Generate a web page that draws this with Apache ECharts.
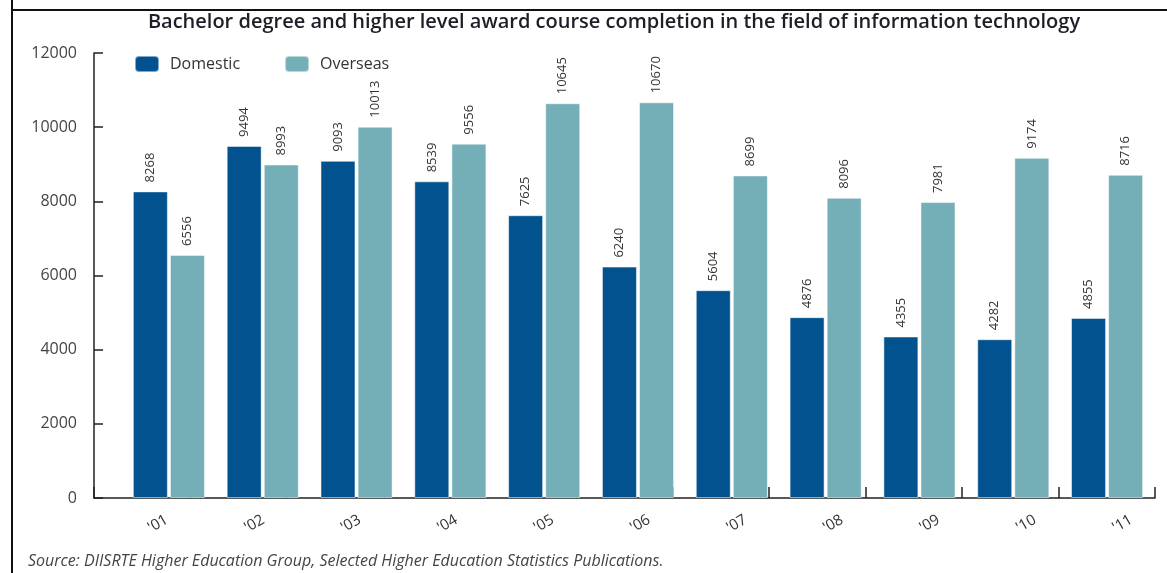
<!DOCTYPE html>
<html>
<head>
<meta charset="utf-8">
<script src="https://cdn.jsdelivr.net/npm/echarts@6/dist/echarts.min.js"></script>
<style>
  html, body { margin: 0; padding: 0; background: #fff; }
  #main { width: 1167px; height: 573px; }
</style>
</head>
<body>
<div id="main"></div>
<script>
// chart data
const years = ["'01", "'02", "'03", "'04", "'05", "'06", "'07", "'08", "'09", "'10", "'11"]
const domestic = [8268, 9494, 9093, 8539, 7625, 6240, 5604, 4876, 4355, 4282, 4855]
const overseas = [6556, 8993, 10013, 9556, 10645, 10670, 8699, 8096, 7981, 9174, 8716]
const yTicks = { min: 0, max: 12000, interval: 2000 }

const font = '"Open Sans", Lato, sans-serif'
const axisColor = '#222'

let myChart = echarts.init(document.getElementById('main'))

function barLabel() {
  return {
    show: true,
    position: 'top',
    rotate: 90,
    align: 'left',
    verticalAlign: 'middle',
    distance: 9,
    color: '#333',
    fontSize: 13,
    fontFamily: font
  }
}

myChart.setOption({
  animation: false,
  title: {
    text: 'Bachelor degree and higher level award course completion in the field of information technology',
    left: 609,
    textAlign: 'center',
    top: 7,
    textStyle: {
      fontFamily: font,
      fontSize: 20,
      fontWeight: 600,
      color: '#1e1e28'
    }
  },
  legend: {
    data: ['Domestic', 'Overseas'],
    left: 134,
    top: 55,
    itemWidth: 24,
    itemHeight: 16,
    itemGap: 44,
    padding: 0,
    textStyle: {
      fontFamily: font,
      fontSize: 16,
      color: '#333',
      padding: [0, 0, 0, 6]
    }
  },
  graphic: [
    { type: 'line', shape: { x1: 12, y1: 0, x2: 12, y2: 573 }, style: { stroke: '#111', lineWidth: 2 } },
    { type: 'line', shape: { x1: 11, y1: 10, x2: 1167, y2: 10 }, style: { stroke: '#111', lineWidth: 2 } },
    {
      type: 'text', left: 28, top: 553,
      style: {
        text: 'Source: DIISRTE Higher Education Group, Selected Higher Education Statistics Publications.',
        font: 'italic 16px ' + font,
        fill: '#444'
      }
    }
  ],
  grid: [
    // axis frame
    { left: 94, right: 12, top: 53, bottom: 75 },
    // bars
    { left: 122, right: 13, top: 53, bottom: 75 }
  ],
  xAxis: [
    {
      type: 'category',
      gridIndex: 0,
      data: years,
      boundaryGap: true,
      axisLine: { lineStyle: { color: axisColor, width: 1.5 } },
      axisTick: { show: true, inside: true, length: 11, lineStyle: { color: axisColor, width: 1.5 } },
      axisLabel: {
        rotate: 30,
        align: 'left',
        margin: 35,
        padding: [0, 0, 0, 8],
        color: '#333',
        fontSize: 15,
        fontFamily: font
      }
    },
    {
      type: 'category',
      gridIndex: 1,
      data: years,
      show: false
    }
  ],
  yAxis: [
    {
      type: 'value',
      gridIndex: 0,
      min: yTicks.min,
      max: yTicks.max,
      interval: yTicks.interval,
      splitLine: { show: false },
      axisLine: { show: true, lineStyle: { color: axisColor, width: 1.5 } },
      axisTick: { show: true, inside: true, length: 9, lineStyle: { color: axisColor, width: 1.5 } },
      axisLabel: {
        margin: 17,
        color: '#444',
        fontSize: 16,
        fontFamily: font,
        formatter: v => String(v)
      }
    },
    {
      type: 'value',
      gridIndex: 1,
      min: yTicks.min,
      max: yTicks.max,
      show: false
    }
  ],
  series: [
    {
      name: 'Domestic',
      type: 'bar',
      xAxisIndex: 1,
      yAxisIndex: 1,
      barWidth: 35,
      barGap: '6%',
      itemStyle: { color: '#02528f', borderColor: 'rgba(255,255,255,0.5)', borderWidth: 1 },
      label: barLabel(),
      data: domestic
    },
    {
      name: 'Overseas',
      type: 'bar',
      xAxisIndex: 1,
      yAxisIndex: 1,
      barWidth: 35,
      barGap: '6%',
      itemStyle: { color: '#74afb7', borderColor: 'rgba(255,255,255,0.5)', borderWidth: 1 },
      label: barLabel(),
      data: overseas
    }
  ]
})
</script>
</body>
</html>
